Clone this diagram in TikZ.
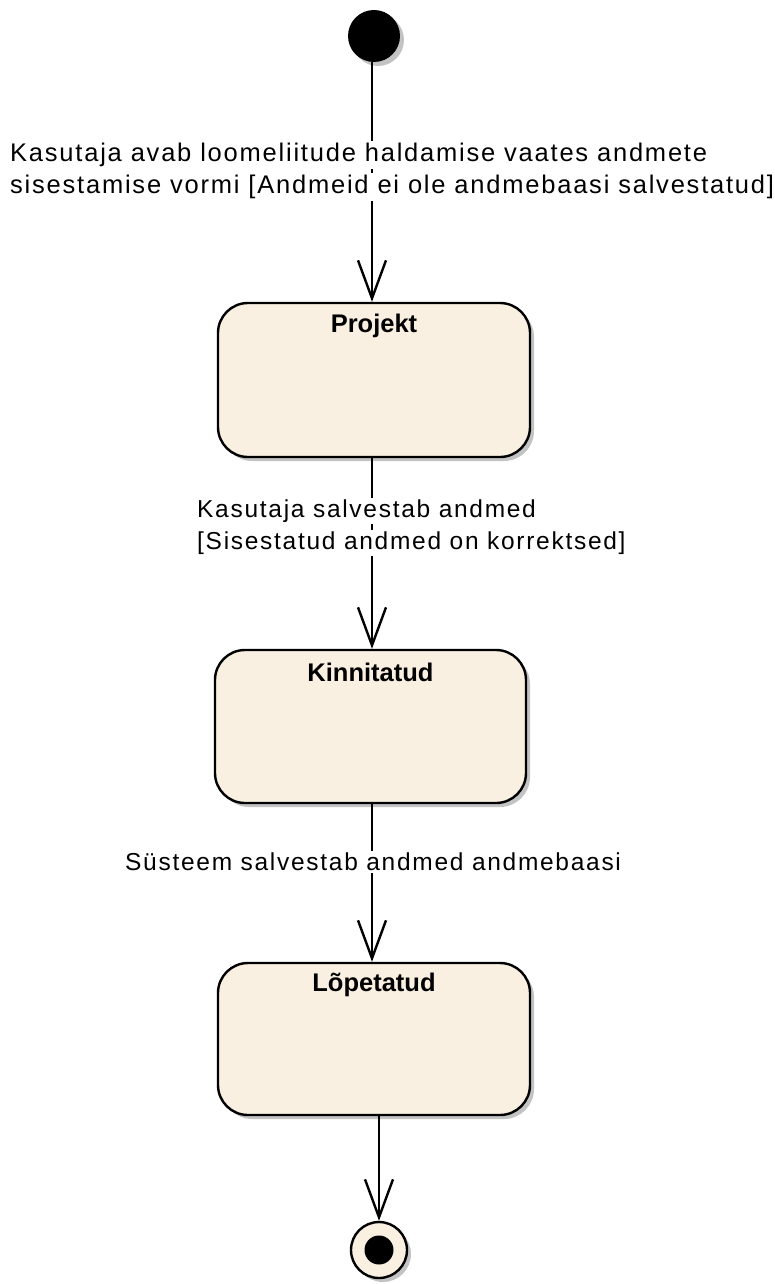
\documentclass[tikz,border=0pt]{standalone}
\usepackage{fontspec}
\setmainfont{Liberation Sans}
\newfontfamily\lblfont[LetterSpace=7]{Liberation Sans}
\usetikzlibrary{arrows.meta,shadows}
\definecolor{statefill}{RGB}{250,240,226}
\definecolor{shadowgray}{RGB}{195,195,195}
\begin{document}
\begin{tikzpicture}[x=1pt,y=-1pt,
  softshadow/.style={drop shadow={shadow xshift=4pt,shadow yshift=-4pt,fill=shadowgray,opacity=1}},
  state/.style={draw=black,line width=2.4pt,fill=statefill,rounded corners=30pt,
    minimum width=312pt,minimum height=154pt,inner sep=0pt,softshadow},
  statetitle/.style={font=\fontsize{25.5}{28}\selectfont\bfseries,inner sep=0pt},
  initnode/.style={circle,fill=black,minimum size=52pt,inner sep=0pt,softshadow},
  finalouter/.style={circle,draw=black,line width=2.4pt,fill=statefill,minimum size=56pt,inner sep=0pt,softshadow},
  finalinner/.style={circle,fill=black,minimum size=29pt,inner sep=0pt},
  trans/.style={draw=black,line width=2.4pt,-{Straight Barb[length=38pt,width=28pt,line width=2.4pt]}},
  lbl/.style={font=\lblfont\fontsize{24.5}{28}\selectfont,fill=white,inner xsep=0pt,inner ysep=2pt,anchor=west},
  lblwide/.style={lbl,font=\lblfont\fontsize{25.5}{28}\selectfont}
]
\useasboundingbox (0,0) rectangle (774,1284);

% states
\node[initnode] (init) at (374,36) {};
\node[state] (proj) at (374,380) {};
\node[statetitle] (projT) at (374,326) {Projekt};
\node[state,minimum width=311pt,minimum height=153pt] (kinn) at (370.5,726.5) {};
\node[statetitle] (kinnT) at (370.5,672) {Kinnitatud};
\node[state,minimum height=152pt] (lop) at (374,1039) {};
\node[statetitle] (lopT) at (374,985) {Lõpetatud};
\node[finalouter] (fin) at (379,1250) {};
\node[finalinner] (finIn) at (fin.center) {};

% transitions
\draw[trans] (init.south -| 372,0) -- (proj.north -| 372,0);
\draw[trans] (proj.south -| 372,0) -- (kinn.north -| 372,0);
\draw[trans] (kinn.south -| 372,0) -- (lop.north -| 372,0);
\draw[trans] (lop.south -| fin.north) -- (fin.north);

% transition labels
\node[lblwide] (t1a) at (10,155) {Kasutaja avab loomeliitude haldamise vaates andmete};
\node[lblwide] (t1b) at (10,187) {sisestamise vormi [Andmeid ei ole andmebaasi salvestatud]};
\node[lbl] (t2a) at (197,511) {Kasutaja salvestab andmed};
\node[lbl] (t2b) at (197,543) {[Sisestatud andmed on korrektsed]};
\node[lbl] (t3) at (125,862) {Süsteem salvestab andmed andmebaasi};
\end{tikzpicture}
\end{document}
